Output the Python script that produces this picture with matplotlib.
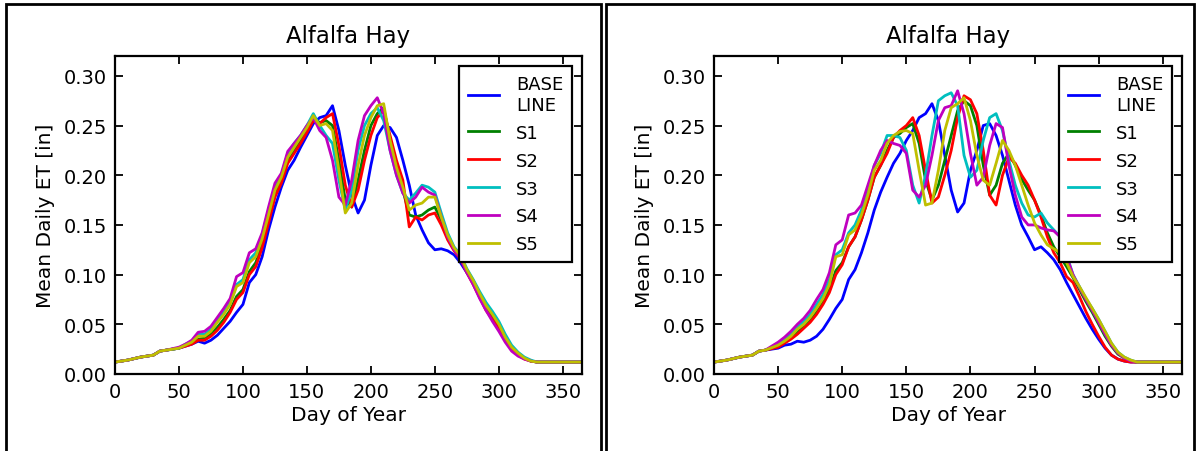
import matplotlib
matplotlib.use("Agg")
import matplotlib.pyplot as plt
from matplotlib.patches import Rectangle

days = [0, 10, 20, 30, 35, 40,
        50, 55, 60, 65, 70, 75, 80, 85, 90, 95,
        100, 105, 110, 115, 120, 125, 130, 135, 140, 145,
        150, 155, 160, 165, 170, 175, 180, 185, 190, 195,
        200, 205, 210, 215, 220, 225, 230, 235, 240, 245,
        250, 255, 260, 265, 270, 275, 280, 285, 290, 295,
        300, 305, 310, 315, 320, 325, 330,
        340, 350, 365]

early = [0.012, 0.014, 0.017, 0.019, 0.023, 0.024]
tail = [0.012, 0.012, 0.012]

# left panel
left_base = early + [
    0.026, 0.028, 0.030, 0.033, 0.031, 0.034, 0.039, 0.046, 0.053, 0.062,
    0.070, 0.092, 0.100, 0.118, 0.145, 0.168, 0.188, 0.205, 0.215, 0.228,
    0.240, 0.252, 0.258, 0.260, 0.270, 0.245, 0.210, 0.180, 0.162, 0.175,
    0.210, 0.240, 0.250, 0.248, 0.238, 0.215, 0.190, 0.160, 0.145, 0.132,
    0.125, 0.126, 0.124, 0.120, 0.112, 0.102, 0.092, 0.080, 0.068, 0.058,
    0.048, 0.035, 0.026, 0.020, 0.016, 0.013, 0.012] + tail
left_s1 = early + [
    0.026, 0.029, 0.031, 0.035, 0.036, 0.040, 0.047, 0.055, 0.064, 0.078,
    0.085, 0.103, 0.112, 0.130, 0.155, 0.180, 0.195, 0.215, 0.225, 0.235,
    0.245, 0.258, 0.253, 0.255, 0.250, 0.215, 0.175, 0.168, 0.195, 0.225,
    0.250, 0.262, 0.268, 0.235, 0.210, 0.185, 0.160, 0.158, 0.160, 0.165,
    0.168, 0.155, 0.138, 0.126, 0.118, 0.104, 0.093, 0.080, 0.068, 0.060,
    0.050, 0.037, 0.027, 0.021, 0.016, 0.013, 0.012] + tail
left_s2 = early + [
    0.026, 0.028, 0.030, 0.034, 0.034, 0.038, 0.044, 0.052, 0.062, 0.075,
    0.082, 0.100, 0.108, 0.127, 0.152, 0.178, 0.192, 0.212, 0.222, 0.232,
    0.243, 0.255, 0.252, 0.258, 0.262, 0.230, 0.190, 0.168, 0.185, 0.215,
    0.240, 0.258, 0.265, 0.240, 0.215, 0.195, 0.148, 0.158, 0.155, 0.160,
    0.162, 0.150, 0.135, 0.124, 0.116, 0.102, 0.090, 0.077, 0.064, 0.055,
    0.046, 0.034, 0.025, 0.019, 0.015, 0.013, 0.012] + tail
left_s3 = early + [
    0.026, 0.030, 0.033, 0.040, 0.040, 0.045, 0.055, 0.062, 0.072, 0.090,
    0.095, 0.115, 0.122, 0.140, 0.165, 0.188, 0.200, 0.222, 0.232, 0.240,
    0.250, 0.262, 0.250, 0.240, 0.232, 0.195, 0.165, 0.185, 0.225, 0.250,
    0.262, 0.268, 0.255, 0.225, 0.200, 0.182, 0.175, 0.182, 0.190, 0.188,
    0.183, 0.162, 0.142, 0.128, 0.120, 0.106, 0.095, 0.083, 0.072, 0.063,
    0.053, 0.040, 0.029, 0.022, 0.017, 0.014, 0.012] + tail
left_s4 = early + [
    0.027, 0.030, 0.034, 0.042, 0.043, 0.048, 0.057, 0.066, 0.076, 0.098,
    0.102, 0.122, 0.126, 0.142, 0.168, 0.192, 0.202, 0.224, 0.232, 0.240,
    0.250, 0.258, 0.245, 0.238, 0.215, 0.178, 0.170, 0.195, 0.235, 0.260,
    0.270, 0.278, 0.262, 0.225, 0.200, 0.182, 0.172, 0.178, 0.188, 0.183,
    0.180, 0.158, 0.138, 0.125, 0.117, 0.102, 0.090, 0.076, 0.064, 0.053,
    0.043, 0.032, 0.023, 0.018, 0.015, 0.013, 0.012] + tail
left_s5 = early + [
    0.026, 0.029, 0.032, 0.038, 0.038, 0.043, 0.052, 0.060, 0.070, 0.088,
    0.092, 0.112, 0.118, 0.136, 0.160, 0.185, 0.198, 0.218, 0.228, 0.238,
    0.248, 0.260, 0.250, 0.252, 0.245, 0.205, 0.162, 0.172, 0.210, 0.240,
    0.258, 0.270, 0.272, 0.235, 0.208, 0.188, 0.165, 0.170, 0.172, 0.178,
    0.178, 0.158, 0.140, 0.127, 0.119, 0.105, 0.094, 0.081, 0.069, 0.060,
    0.050, 0.037, 0.027, 0.021, 0.016, 0.013, 0.012] + tail

# right panel
right_base = early + [
    0.026, 0.029, 0.030, 0.033, 0.032, 0.034, 0.038, 0.045, 0.055, 0.066,
    0.075, 0.095, 0.105, 0.122, 0.142, 0.165, 0.183, 0.198, 0.212, 0.222,
    0.235, 0.245, 0.258, 0.262, 0.272, 0.255, 0.220, 0.185, 0.163, 0.172,
    0.205, 0.225, 0.250, 0.252, 0.240, 0.220, 0.195, 0.170, 0.150, 0.138,
    0.125, 0.128, 0.122, 0.115, 0.105, 0.092, 0.080, 0.068, 0.056, 0.045,
    0.035, 0.026, 0.019, 0.015, 0.013, 0.012, 0.012] + tail
right_s1 = early + [
    0.028, 0.032, 0.036, 0.042, 0.048, 0.054, 0.062, 0.072, 0.085, 0.104,
    0.112, 0.128, 0.138, 0.155, 0.175, 0.198, 0.210, 0.225, 0.238, 0.242,
    0.248, 0.252, 0.232, 0.195, 0.175, 0.190, 0.215, 0.240, 0.265, 0.275,
    0.270, 0.250, 0.210, 0.180, 0.190, 0.212, 0.222, 0.210, 0.196, 0.185,
    0.175, 0.160, 0.142, 0.128, 0.118, 0.108, 0.097, 0.085, 0.073, 0.062,
    0.050, 0.038, 0.028, 0.020, 0.016, 0.013, 0.012] + tail
right_s2 = early + [
    0.027, 0.031, 0.035, 0.040, 0.046, 0.052, 0.060, 0.070, 0.082, 0.100,
    0.110, 0.128, 0.138, 0.155, 0.175, 0.198, 0.210, 0.222, 0.238, 0.245,
    0.250, 0.258, 0.240, 0.205, 0.172, 0.178, 0.200, 0.225, 0.258, 0.280,
    0.276, 0.262, 0.225, 0.180, 0.170, 0.200, 0.218, 0.212, 0.200, 0.190,
    0.175, 0.158, 0.138, 0.122, 0.112, 0.098, 0.092, 0.078, 0.063, 0.050,
    0.038, 0.027, 0.019, 0.015, 0.013, 0.012, 0.012] + tail
right_s3 = early + [
    0.030, 0.034, 0.040, 0.047, 0.053, 0.060, 0.070, 0.080, 0.095, 0.120,
    0.125, 0.142, 0.150, 0.165, 0.185, 0.210, 0.222, 0.240, 0.240, 0.238,
    0.225, 0.190, 0.172, 0.200, 0.240, 0.275, 0.280, 0.283, 0.270, 0.220,
    0.198, 0.205, 0.235, 0.258, 0.262, 0.245, 0.215, 0.190, 0.172, 0.160,
    0.158, 0.162, 0.152, 0.145, 0.138, 0.120, 0.100, 0.088, 0.076, 0.066,
    0.055, 0.043, 0.031, 0.022, 0.017, 0.014, 0.012] + tail
right_s4 = early + [
    0.032, 0.037, 0.043, 0.050, 0.056, 0.064, 0.075, 0.085, 0.102, 0.130,
    0.135, 0.160, 0.162, 0.170, 0.190, 0.210, 0.225, 0.235, 0.232, 0.230,
    0.222, 0.185, 0.178, 0.190, 0.220, 0.255, 0.268, 0.270, 0.285, 0.262,
    0.222, 0.190, 0.198, 0.230, 0.252, 0.248, 0.210, 0.180, 0.158, 0.150,
    0.150, 0.147, 0.145, 0.144, 0.138, 0.118, 0.100, 0.087, 0.075, 0.064,
    0.052, 0.040, 0.029, 0.021, 0.016, 0.013, 0.012] + tail
right_s5 = early + [
    0.029, 0.033, 0.038, 0.045, 0.050, 0.057, 0.066, 0.076, 0.090, 0.118,
    0.120, 0.140, 0.145, 0.160, 0.180, 0.205, 0.215, 0.232, 0.240, 0.244,
    0.245, 0.242, 0.205, 0.170, 0.172, 0.205, 0.245, 0.268, 0.272, 0.278,
    0.255, 0.220, 0.195, 0.190, 0.212, 0.235, 0.225, 0.210, 0.190, 0.170,
    0.152, 0.140, 0.130, 0.126, 0.122, 0.112, 0.098, 0.088, 0.077, 0.066,
    0.055, 0.043, 0.031, 0.022, 0.017, 0.014, 0.012] + tail

labels = ["BASE\nLINE", "S1", "S2", "S3", "S4", "S5"]
colors = ["b", "g", "r", "c", "m", "y"]
xticks = [0, 50, 100, 150, 200, 250, 300, 350]
yticks = [0.00, 0.05, 0.10, 0.15, 0.20, 0.25, 0.30]


def draw_panel(ax, series):
    for values, label, color in zip(series, labels, colors):
        ax.plot(days, values, color=color, lw=2, label=label)
    ax.set_xlim(0, 365)
    ax.set_ylim(0, 0.32)
    ax.set_xticks(xticks)
    ax.set_yticks(yticks)
    ax.set_yticklabels([f"{v:.2f}" for v in yticks])
    ax.tick_params(direction="in", top=True, right=True, length=6, width=1.3,
                   labelsize=14, pad=6)
    for s in ax.spines.values():
        s.set_linewidth(1.6)
    ax.set_title("Alfalfa Hay", fontsize=16.5, pad=10)
    ax.set_xlabel("Day of Year", fontsize=14.5, labelpad=3)
    ax.set_ylabel("Mean Daily ET [in]", fontsize=14.5, labelpad=6)
    leg = ax.legend(loc="upper right", fontsize=13, fancybox=False, framealpha=1,
                    edgecolor="black", borderaxespad=0.55, handlelength=1.7,
                    labelspacing=0.55, handletextpad=0.95, borderpad=0.5)
    leg.get_frame().set_linewidth(1.6)


fig = plt.figure(figsize=(11.96, 4.52), dpi=100)
ax1 = fig.add_axes([115 / 1196, 77 / 452, 467 / 1196, 318 / 452])
ax2 = fig.add_axes([714 / 1196, 77 / 452, 468 / 1196, 318 / 452])

draw_panel(ax1, [left_base, left_s1, left_s2, left_s3, left_s4, left_s5])
draw_panel(ax2, [right_base, right_s1, right_s2, right_s3, right_s4, right_s5])

# panel borders
fig.add_artist(Rectangle((6 / 1196, -0.02), 595 / 1196, 1.02 - 5 / 452,
                         transform=fig.transFigure, fill=False, lw=2, ec="black"))
fig.add_artist(Rectangle((606 / 1196, -0.02), 588 / 1196, 1.02 - 5 / 452,
                         transform=fig.transFigure, fill=False, lw=2, ec="black"))

fig.savefig("out.png", dpi=100)
